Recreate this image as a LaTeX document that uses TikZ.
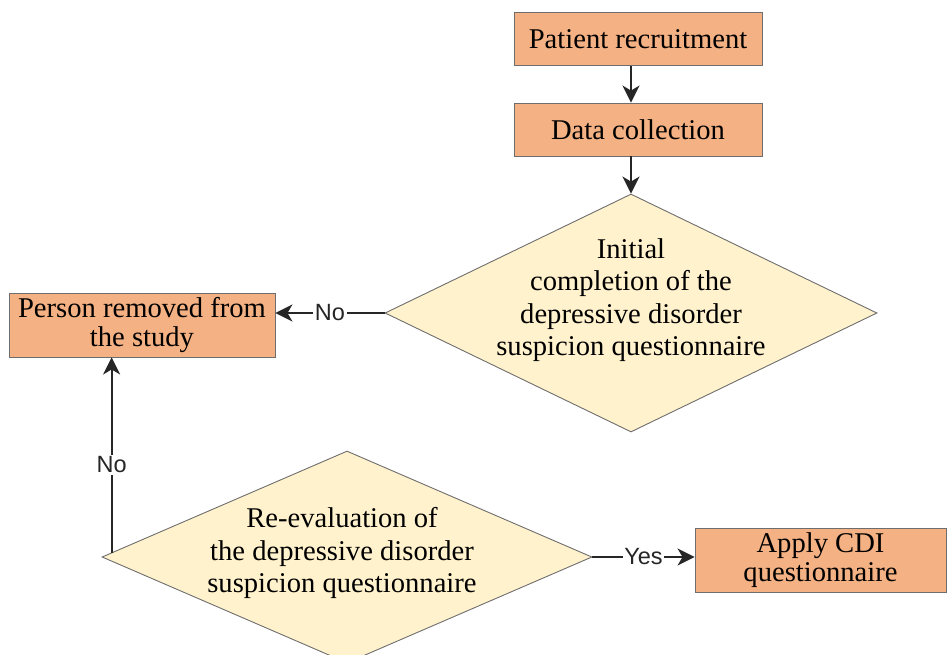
\documentclass[tikz,border=0pt]{standalone}
\usepackage{fontspec}
\setmainfont{Liberation Serif}
\newfontfamily\lblfont{Liberation Sans}
\usetikzlibrary{shapes.geometric,arrows.meta,calc}
\definecolor{boxfill}{HTML}{F4B183}
\definecolor{diafill}{HTML}{FFF2CC}
\definecolor{edgegray}{HTML}{6E6E6E}
\begin{document}
\begin{tikzpicture}[x=1pt,y=-1pt,
  box/.style={draw=edgegray, line width=0.9pt, fill=boxfill, inner sep=0pt, align=center,
    font=\fontsize{28.6}{28.5}\selectfont},
  dia/.style={draw=edgegray, line width=0.9pt, fill=diafill, shape=diamond, inner sep=0pt},
  diatext/.style={align=center, inner sep=0pt, font=\fontsize{28.6}{32.4}\selectfont},
  conn/.style={line width=2pt, draw=black!85, -{Stealth[length=17pt,width=17pt,inset=5pt]}},
  lbl/.style={fill=white, inner sep=1.5pt, text=black!85, font=\lblfont\fontsize{23.5}{24}\selectfont},
  ]
\useasboundingbox (0,0) rectangle (949,654);
\fill[white] (0,0) rectangle (949,654);
\clip (0,0) rectangle (949,654);

\node[box, minimum width=248pt, minimum height=53pt] (a) at (638,39) {Patient recruitment};
\node[box, minimum width=248pt, minimum height=53pt] (b) at (638,129.5) {Data collection};
\node[dia, minimum width=492pt, minimum height=238pt] (d1) at (631,313) {};
\node[diatext] (d1t) at (631,300) {Initial\\completion of the\\depressive disorder\\suspicion questionnaire};
\node[box, minimum width=266pt, minimum height=64pt] (p) at (142,325) {Person removed from\\the study};
\node[dia, minimum width=490pt, minimum height=212pt] (d2) at (347,557) {};
\node[diatext] (d2t) at (342,553) {Re-evaluation of\\the depressive disorder\\suspicion questionnaire};
\node[box, minimum width=251pt, minimum height=64pt] (c) at (820.5,560) {Apply CDI\\questionnaire};

\coordinate (d2s) at ($(d2.west)!0.041!(d2.north)$);

\draw[conn] (a.south -| d1.north) -- (b.north -| d1.north);
\draw[conn] (b.south -| d1.north) -- (d1.north);
\draw[conn] (d1.west) -- node[lbl]{No} (d1.west -| p.east);
\draw[conn] (d2s) -- node[lbl, pos=0.45]{No} (d2s |- p.south);
\draw[conn] (d2.east) -- node[lbl]{Yes} (d2.east -| c.west);
\end{tikzpicture}
\end{document}
